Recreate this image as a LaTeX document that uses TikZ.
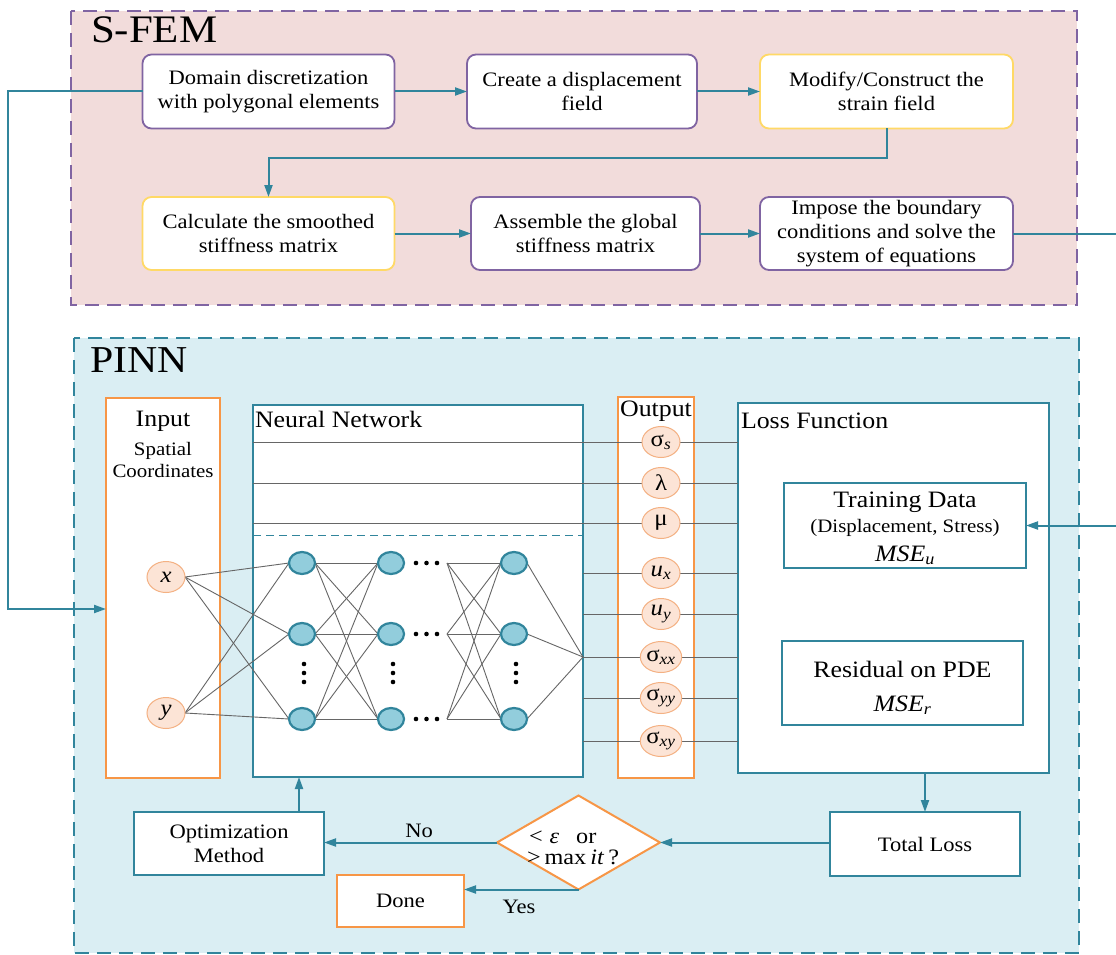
\documentclass[tikz,border=0pt]{standalone}
\usepackage{fontspec}
\setmainfont{Liberation Serif}[FakeStretch=1.1]
\usetikzlibrary{arrows.meta,shapes.geometric}
\pgfdeclarelayer{back}
\pgfdeclarelayer{wires}
\pgfsetlayers{back,wires,main}

\definecolor{sfemfill}{HTML}{F2DCDB}
\definecolor{sfemline}{HTML}{8064A2}
\definecolor{pinnfill}{HTML}{DAEEF3}
\definecolor{tealline}{HTML}{31859C}
\definecolor{goldline}{HTML}{FFD966}
\definecolor{orng}{HTML}{F79646}
\definecolor{peach}{HTML}{FCE4D6}
\definecolor{peachline}{HTML}{F4B183}
\definecolor{cellfill}{HTML}{92CDDC}

\newcommand\fsz[2]{\fontsize{#1}{#2}\selectfont}

\tikzset{
  every node/.style={inner sep=0pt, outer sep=0pt},
  stepbox/.style={draw=sfemline, line width=1.8pt, rounded corners=9pt, fill=white,
    align=center, font=\fsz{20.5}{24}},
  keybox/.style={stepbox, draw=goldline},
  flow/.style={draw=tealline, line width=2pt, -{Triangle[length=12pt,width=8pt]}},
  panel/.style={draw=tealline, line width=1.8pt, fill=white},
  lane/.style={draw=orng, line width=2.2pt, fill=white},
  outvar/.style={ellipse, draw=peachline, line width=1pt, fill=peach,
    minimum width=38pt, minimum height=31pt, font=\fsz{22.5}{24}},
  cell/.style={ellipse, draw=tealline, line width=2.2pt, fill=cellfill,
    minimum width=26pt, minimum height=22pt},
  wire/.style={draw=black!60, line width=0.9pt},
  bead/.style={circle, fill=black, minimum size=4.6pt},
  heading/.style={font=\fsz{23.5}{28}},
  small/.style={font=\fsz{19}{22}},
  plaintext/.style={font=\fsz{20.5}{24}, align=center},
}

\begin{document}
\begin{tikzpicture}[x=1pt,y=-1pt]
\useasboundingbox (0,0) rectangle (1116,955);

% ---------- group panels ----------
\begin{pgfonlayer}{back}
  \path[fill=sfemfill, draw=sfemline, line width=1.8pt, dash pattern=on 14pt off 8pt]
    (71,11) rectangle (1077,305);
  \path[fill=pinnfill, draw=tealline, line width=1.8pt, dash pattern=on 14pt off 8pt]
    (74,338) rectangle (1079,953);
  \node[lane, minimum width=114pt, minimum height=380pt] (inp) at (163,588) {};
  \node[panel, minimum width=330pt, minimum height=372pt] (nn) at (418,591) {};
  \node[lane, minimum width=76pt, minimum height=381pt] (outp) at (656,587.5) {};
  \node[panel, minimum width=311pt, minimum height=370pt] (loss) at (893.5,588) {};
\end{pgfonlayer}

\node[anchor=base west, font=\fsz{39}{42}] (sfemtitle) at (91,43) {S-FEM};
\node[anchor=base west, font=\fsz{38}{42}] (pinntitle) at (90,372) {PINN};

% ---------- S-FEM pipeline ----------
\node[stepbox, minimum width=252pt, minimum height=74pt] (dom) at (268.5,91.5)
  {Domain discretization\\with polygonal elements};
\node[stepbox, minimum width=230pt, minimum height=74pt] (cre) at (582,91.5)
  {Create a displacement\\field};
\node[keybox, minimum width=253pt, minimum height=74pt] (mod) at (886.5,91.5)
  {Modify/Construct the\\strain field};
\node[keybox, minimum width=252pt, minimum height=73pt] (cal) at (268.5,233.5)
  {Calculate the smoothed\\stiffness matrix};
\node[stepbox, minimum width=229pt, minimum height=73pt] (asm) at (585.5,233.5)
  {Assemble the global\\stiffness matrix};
\node[stepbox, minimum width=253pt, minimum height=73pt] (imp) at (886.5,233.5)
  {Impose the boundary\\conditions and solve the\\system of equations};

\coordinate (bend) at (268.5,158);
\draw[flow] (dom) -- (cre);
\draw[flow] (cre) -- (mod);
\draw[flow] (mod.south) |- (bend) -- (cal.north);
\draw[flow] (cal) -- (asm);
\draw[flow] (asm) -- (imp);

% ---------- PINN: input column ----------
\node[heading, anchor=base] (inptitle) at (163,426) {Input};
\node[small, anchor=base] (inpsub1) at (163,455) {Spatial};
\node[small, anchor=base] (inpsub2) at (163,477) {Coordinates};
\node[outvar] (xin) at (166,577) {\textit{x}};
\node[outvar] (yin) at (166,713) {\textit{y}};

% ---------- PINN: network ----------
\node[heading, anchor=base west] (nntitle) at (255,427) {Neural Network};
\foreach \c/\cx in {1/302,2/391,3/514}
  \foreach \r/\ry in {1/563,2/634,3/719}
    \node[cell] (n\c\r) at (\cx,\ry) {};
\foreach \ry in {563,634,719}
  \foreach \dx in {416,426.5,437}
    \node[bead] at (\dx,\ry) {};
\foreach \cx in {304,393,516}
  \foreach \ry in {664,673,682}
    \node[bead] at (\cx,\ry) {};
\coordinate (fan1) at (447,563);
\coordinate (fan2) at (447,634);
\coordinate (fan3) at (447,719);
\coordinate (merge) at (583,657);

% ---------- PINN: outputs ----------
\node[heading, anchor=base] (outtitle) at (656,416) {Output};
\node[outvar] (osig) at (661,442) {σ\textsubscript{\textit{s}}};
\node[outvar] (olam) at (661,483) {λ};
\node[outvar] (omu)  at (661,523) {μ};
\node[outvar] (oux)  at (661,573) {\textit{u}\textsubscript{\textit{x}}};
\node[outvar] (ouy)  at (661,614) {\textit{u}\textsubscript{\textit{y}}};
\node[outvar] (osxx) at (661,657) {σ\textsubscript{\textit{xx}}};
\node[outvar] (osyy) at (661,698) {σ\textsubscript{\textit{yy}}};
\node[outvar] (osxy) at (661,741) {σ\textsubscript{\textit{xy}}};

% ---------- PINN: loss ----------
\node[heading, anchor=base west] (losstitle) at (741,428) {Loss Function};
\node[panel, minimum width=242pt, minimum height=85pt] (train) at (905,525.5) {};
\node[heading, anchor=base] (traint) at (train.center |- 0,507) {Training Data};
\node[small, anchor=base] (trains) at (train.center |- 0,532) {(Displacement, Stress)};
\node[heading, anchor=base] (trainm) at (train.center |- 0,561) {\textit{MSE}\textsubscript{\textit{u}}};
\node[panel, minimum width=241pt, minimum height=84pt] (resid) at (902.5,683) {};
\node[heading, anchor=base] (residt) at (resid.center |- 0,677) {Residual on PDE};
\node[heading, anchor=base] (residm) at (resid.center |- 0,711) {\textit{MSE}\textsubscript{\textit{r}}};

% ---------- training loop ----------
\node[panel, plaintext, minimum width=190pt, minimum height=64pt] (total) at (925,844) {Total Loss};
\node[diamond, draw=orng, fill=white, line width=2pt, minimum width=163pt, minimum height=94pt]
  (dec) at (578.5,842.5) {};
\node[anchor=base west, font=\fsz{22}{24}] (decl1) at (529,843)
  {<\hspace{7pt}\textit{ε}\hspace{17pt}or};
\node[anchor=base west, font=\fsz{22}{24}] (decl2) at (527,864)
  {>\hspace{4pt}max\hspace{4pt}\textit{it}\hspace{4pt}?};
\node[panel, plaintext, minimum width=190pt, minimum height=63pt] (opt) at (229,843.5)
  {Optimization\\Method};
\node[draw=orng, fill=white, line width=2.2pt, plaintext, minimum width=127pt, minimum height=52pt]
  (done) at (400.5,901) {Done};

\coordinate (optTap) at ([xshift=70pt]opt.north);
\draw[flow] (optTap) -- (optTap |- nn.south);
\draw[flow] (total.north |- loss.south) -- (total.north);
\draw[flow] (dec.east -| total.west) -- (dec.east);
\draw[flow] (dec.west) -- (dec.west -| opt.east)
  node[pos=0.45, above=5pt, plaintext] (nolabel) {No};
\draw[flow] (dec.south) -- (dec.south -| done.east)
  node[pos=0.52, below=11pt, plaintext] (yeslabel) {Yes};

% ---------- links between the two stages ----------
\coordinate (leftrail) at (8,609);
\coordinate (rightrail) at (1130,233.5);
\draw[flow] (dom.west) -| (leftrail) -- (inp.west |- leftrail);
\draw[flow] (imp.east) -- (rightrail) |- (train.east);

% ---------- network wiring ----------
\begin{pgfonlayer}{wires}
  \foreach \r in {1,2,3} {
    \draw[wire] (xin.east) -- (n1\r.west);
    \draw[wire] (yin.east) -- (n1\r.west);
    \draw[wire] (n3\r.east) -- (merge);
  }
  \foreach \a in {1,2,3}
    \foreach \b in {1,2,3} {
      \draw[wire] (n1\a.east) -- (n2\b.west);
      \draw[wire] (fan\a) -- (n3\b.west);
    }
  \foreach \o in {osig,olam,omu}
    \draw[wire] (nn.west |- \o) -- (loss.west |- \o);
  \foreach \o in {oux,ouy,osxx,osyy,osxy}
    \draw[wire] (nn.east |- \o) -- (loss.west |- \o);
  \draw[tealline, line width=1pt, dash pattern=on 8pt off 5pt]
    (nn.west |- 0,535) -- (nn.east |- 0,535);
\end{pgfonlayer}
\end{tikzpicture}
\end{document}
